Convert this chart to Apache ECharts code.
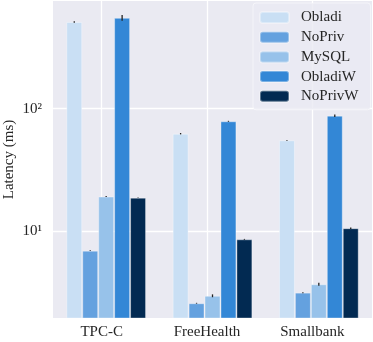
<!DOCTYPE html>
<html>
<head>
<meta charset="utf-8">
<script src="https://cdn.jsdelivr.net/npm/echarts@6/dist/echarts.min.js"></script>
<style>
html,body{margin:0;padding:0;background:#fff;}
#chart{width:373px;height:342px;}
</style>
</head>
<body>
<div id="chart"></div>
<script>
var categories = ['TPC-C', 'FreeHealth', 'Smallbank'];
var seriesNames = ['Obladi', 'NoPriv', 'MySQL', 'ObladiW', 'NoPrivW'];
var obladi  = [510, 62.5, 55.2];
var nopriv  = [6.95, 2.59, 3.16];
var mysql   = [19.2, 2.98, 3.70];
var obladiW = [550, 78.9, 87.7];
var noprivW = [18.8, 8.6, 10.6];
var obladiErr  = [7, 0.8, 0.4];
var noprivErr  = [0.04, 0.02, 0.03];
var mysqlErr   = [0.2, 0.08, 0.1];
var obladiWErr = [30, 0.7, 2.1];
var noprivWErr = [0.1, 0.07, 0.16];
var yTicks = [10, 100];

var values = [obladi, nopriv, mysql, obladiW, noprivW];
var errors = [obladiErr, noprivErr, mysqlErr, obladiWErr, noprivWErr];
var colors = ['#C9DFF4', '#64A1DF', '#97C2EA', '#3387D6', '#022A52'];
var FONT = 'Liberation Serif';
var FS = 15;
var TXT = '#262626';
var SUP = {1: '\u00B9', 2: '\u00B2', 3: '\u00B3'};

var series = seriesNames.map(function (n, j) {
  return {
    name: n, type: 'bar', xAxisIndex: 0, yAxisIndex: 0,
    data: values[j], barGap: '0%', barCategoryGap: '25%',
    itemStyle: {color: colors[j], borderColor: 'rgba(255,255,255,0.35)', borderWidth: 1},
    emphasis: {disabled: true}, z: 2
  };
});

var errData = [];
seriesNames.forEach(function (n, j) {
  categories.forEach(function (c, i) {
    errData.push([i, j, values[j][i], errors[j][i]]);
  });
});
var nSeries = seriesNames.length;
series.push({
  name: 'err', type: 'custom', xAxisIndex: 0, yAxisIndex: 0, z: 3,
  encode: {x: 0, y: 2},
  data: errData,
  renderItem: function (params, api) {
    var i = api.value(0), j = api.value(1), v = api.value(2), e = api.value(3);
    var band = api.size([1, 0])[0];
    var bw = band * 0.75 / nSeries;
    var c = api.coord([i, v]);
    var x = c[0] + (j - (nSeries - 1) / 2) * bw;
    var y1 = api.coord([i, v - e])[1];
    var y2 = api.coord([i, v + e])[1];
    return {type: 'line', shape: {x1: x, y1: y1, x2: x, y2: y2},
      style: {stroke: '#222', lineWidth: 1.3}};
  }
});

var chart = echarts.init(document.getElementById('chart'), null, {renderer: 'canvas'});
chart.setOption({
  animation: false,
  textStyle: {fontFamily: FONT},
  grid: [
    {left: 53, right: 1, top: 1, bottom: 24, show: true, backgroundColor: '#EAEAF2', borderWidth: 0, z: 0,
      containLabel: false, outerBoundsMode: 'none'},
    {left: 101.7, right: 60.7, top: 1, bottom: 24, show: false, containLabel: false, outerBoundsMode: 'none'}
  ],
  legend: {
    data: seriesNames, orient: 'vertical', left: 253, top: 3,
    padding: [7, 12, 6, 6], itemWidth: 29, itemHeight: 11, itemGap: 4.7,
    backgroundColor: 'rgba(234,234,242,0.8)', borderColor: 'rgba(255,255,255,0.5)', borderWidth: 1, borderRadius: 3,
    textStyle: {fontFamily: FONT, fontSize: FS, color: TXT, lineHeight: 15, padding: [0, 0, 0, 7]},
    selectedMode: false, z: 5
  },
  xAxis: [
    {type: 'category', gridIndex: 0, data: categories, boundaryGap: true,
      axisLine: {show: false}, axisTick: {show: false}, axisLabel: {show: false}, splitLine: {show: false}},
    {type: 'value', gridIndex: 1, min: 0, max: categories.length - 1, interval: 1, z: 1,
      axisLine: {show: false}, axisTick: {show: false},
      axisLabel: {margin: 7, fontFamily: FONT, fontSize: FS, color: TXT,
        formatter: function (v) { return categories[Math.round(v)]; }},
      splitLine: {show: true, lineStyle: {color: '#ffffff', width: 1.3}}}
  ],
  yAxis: [
    {type: 'log', gridIndex: 0, logBase: 10, min: 1.963, max: 755, z: 1,
      name: 'Latency (ms)', nameLocation: 'middle', nameGap: 36, nameMoveOverlap: false,
      nameTextStyle: {fontFamily: FONT, fontSize: FS, color: TXT},
      axisLine: {show: false}, axisTick: {show: false}, minorTick: {show: false},
      axisLabel: {margin: 11, fontFamily: FONT, fontSize: FS, color: TXT, showMinLabel: false, showMaxLabel: false,
        formatter: function (v) {
          var e = Math.round(Math.log10(v));
          if (yTicks.indexOf(Math.round(v)) < 0) return '';
          return '10' + SUP[e];
        }},
      splitLine: {show: true, showMinLine: false, showMaxLine: false, lineStyle: {color: '#ffffff', width: 1.3}}},
    {type: 'value', gridIndex: 1, show: false, min: 0, max: 1, splitLine: {show: false}}
  ],
  series: series
});
</script>
</body>
</html>
